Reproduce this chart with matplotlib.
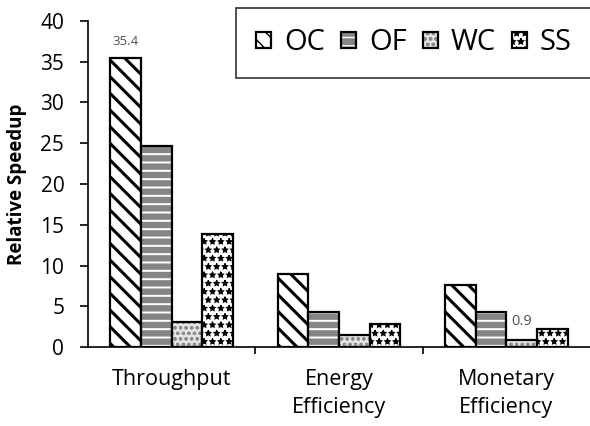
import matplotlib
matplotlib.use("Agg")
import matplotlib.pyplot as plt
import numpy as np

plt.rcParams['font.family'] = ['Open Sans', 'DejaVu Sans']
plt.rcParams['font.weight'] = 500

categories = ["Throughput", "Energy\nEfficiency", "Monetary\nEfficiency"]
series = ["OC", "OF", "WC", "SS"]
oc = [35.4, 9.0, 7.6]
of = [24.7, 4.3, 4.3]
wc = [3.1, 1.5, 0.9]
ss = [13.9, 2.8, 2.2]
yticks = [0, 5, 10, 15, 20, 25, 30, 35, 40]

values = [oc, of, wc, ss]
# fill colour, hatch pattern, hatch colour, hatch line width
fills = [
    ("white", "\\\\", "black", 2.2),
    ("#858585", "--", "white", 1.4),
    ("#e4e4e4", "ooo", "#8a8a8a", 0.8),
    ("white", "**", "black", 0.8),
]

fig = plt.figure(figsize=(5.9, 4.26), dpi=100)
ax = fig.add_axes([0.149, 0.185, 0.851, 0.766])

x = np.arange(len(categories))
width = 0.183
handles = []
for i, (vals, (fc, hatch, hc, hlw)) in enumerate(zip(values, fills)):
    pos = x + (i - 1.5) * width
    with plt.rc_context({"hatch.linewidth": hlw}):
        fill = ax.bar(pos, vals, width, facecolor=fc, edgecolor=hc,
                      hatch=hatch, linewidth=0)
    outline = ax.bar(pos, vals, width, facecolor="none", edgecolor="black",
                     linewidth=1.6)
    handles.append((fill.patches[0], outline.patches[0]))

# value callouts
ax.text(x[0] - 1.5 * width, oc[0] + 1.3, f"{oc[0]:.1f}", ha="center",
        va="bottom", fontsize=9.5, color="#505050")
ax.text(x[2] + 0.5 * width, wc[2] + 2.3, f"{wc[2]:.1f}",
        ha="center", va="center", fontsize=10.5, color="#505050")

ax.set_xlim(-0.5, 2.5)
ax.set_ylim(0, 40)
ax.set_yticks(yticks)
ax.set_xticks([0.5, 1.5])
ax.set_xticklabels([])
ax.set_xticks(x, minor=True)
ax.set_xticklabels(categories, minor=True, fontsize=15.5, linespacing=1.4)
ax.tick_params(axis="x", which="minor", length=0, pad=16)
ax.tick_params(axis="x", which="major", length=5, width=1.2, direction="out")
ax.tick_params(axis="y", length=6, width=1.2, labelsize=15, pad=11)
ax.spines["top"].set_visible(False)
ax.spines["right"].set_visible(False)
ax.spines["left"].set_linewidth(1.2)
ax.spines["bottom"].set_linewidth(1.2)
ax.set_ylabel("Relative Speedup", fontsize=13.5, fontweight="bold")
ax.yaxis.set_label_coords(-0.122, 0.5)

leg = fig.legend(handles, series, loc="upper left",
                 bbox_to_anchor=(236 / 590, 1 - 8 / 426), ncol=4,
                 fontsize=21, frameon=True, fancybox=False, edgecolor="black",
                 handlelength=0.5, handleheight=0.5, handletextpad=0.45,
                 columnspacing=0.56, borderpad=0.7, borderaxespad=0.0)
leg.get_frame().set_linewidth(1.2)

fig.savefig("out.png", dpi=100)
